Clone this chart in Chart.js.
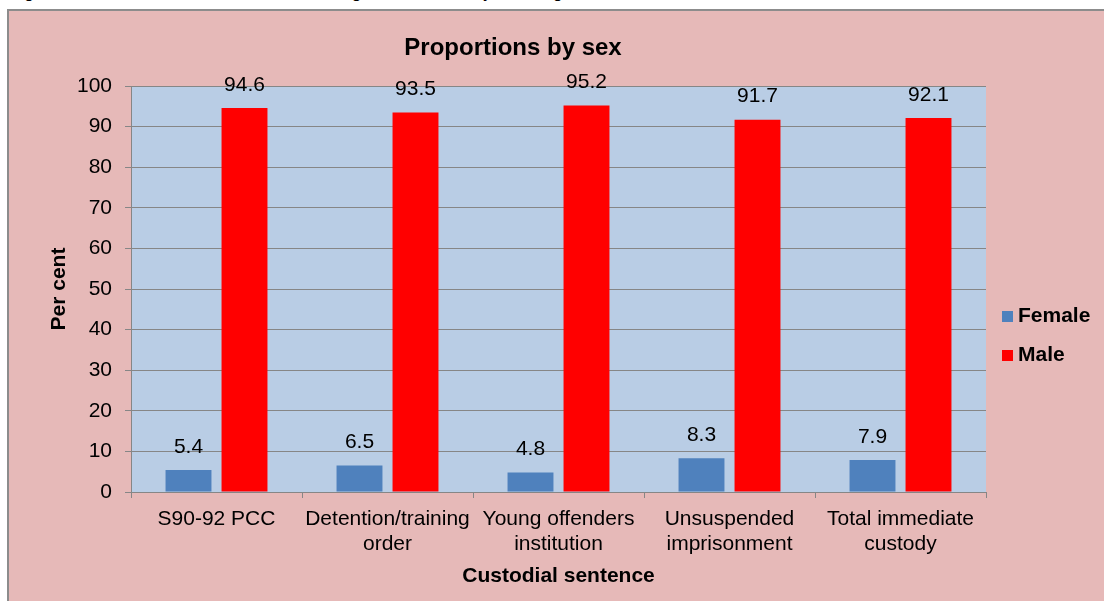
<!DOCTYPE html>
<html>
<head>
<meta charset="utf-8">
<script src="https://cdn.jsdelivr.net/npm/chart.js@4"></script>
<style>
html,body{margin:0;padding:0;background:#fff;}
#wrap{position:relative;width:1104px;height:601px;overflow:hidden;}
#cap{position:absolute;left:10px;top:-17px;font:17px "Liberation Sans",Arial,sans-serif;color:#000;white-space:nowrap;}
canvas{position:absolute;left:0;top:0;}
</style>
</head>
<body>
<div id="wrap">
<div id="cap">Figure 5.11 Immediate custodial sentences, age 10 and over, by sex, England and Wales, 2011</div>
<canvas id="c" width="1104" height="601"></canvas>
</div>
<script>
const categories = [
  ["S90-92 PCC"],
  ["Detention/training", "order"],
  ["Young offenders", "institution"],
  ["Unsuspended", "imprisonment"],
  ["Total immediate", "custody"]
];
const female = [5.4, 6.5, 4.8, 8.3, 7.9];
const male = [94.6, 93.5, 95.2, 91.7, 92.1];
const yTicks = [0, 10, 20, 30, 40, 50, 60, 70, 80, 90, 100];
const chartTitle = "Proportions by sex";
const yTitle = "Per cent";
const xTitle = "Custodial sentence";

const FONT = '"Liberation Sans", Arial, sans-serif';

const bgPlugin = {
  id: 'bg',
  beforeDraw(chart) {
    const ctx = chart.ctx;
    ctx.save();
    ctx.fillStyle = '#E6B9B8';
    ctx.fillRect(8, 10, 1104 - 8, 601 - 10);
    ctx.strokeStyle = '#8C8C8C';
    ctx.lineWidth = 2;
    ctx.beginPath();
    ctx.moveTo(8, 601);
    ctx.lineTo(8, 10);
    ctx.lineTo(1104, 10);
    ctx.stroke();
    const a = chart.chartArea;
    ctx.fillStyle = '#B9CDE5';
    ctx.fillRect(a.left, a.top, a.right - a.left, a.bottom - a.top);
    ctx.restore();
  },
  afterDraw(chart) {
    const ctx = chart.ctx;
    ctx.save();
    ctx.fillStyle = '#000';
    ctx.font = 'bold 24px ' + FONT;
    ctx.textAlign = 'center';
    ctx.textBaseline = 'middle';
    ctx.fillText(chartTitle, 513, 48);
    ctx.font = '21px ' + FONT;
    chart.data.datasets.forEach((ds, i) => {
      const meta = chart.getDatasetMeta(i);
      meta.data.forEach((bar, j) => {
        ctx.fillText(String(ds.data[j]), bar.x, bar.y - 23);
      });
    });
    ctx.font = 'bold 21px ' + FONT;
    ctx.textAlign = 'left';
    const ly = [316, 355];
    chart.data.datasets.forEach((ds, i) => {
      ctx.fillStyle = ds.backgroundColor;
      ctx.fillRect(1002, ly[i] - 5, 11, 11);
      ctx.fillStyle = '#000';
      ctx.fillText(ds.label, 1018, ly[i]);
    });
    ctx.restore();
  }
};

new Chart(document.getElementById('c'), {
  type: 'bar',
  data: {
    labels: categories,
    datasets: [
      { label: 'Female', data: female, backgroundColor: '#4F81BD', categoryPercentage: 0.655, barPercentage: 0.82 },
      { label: 'Male', data: male, backgroundColor: '#FF0000', categoryPercentage: 0.655, barPercentage: 0.82 }
    ]
  },
  options: {
    responsive: false,
    animation: false,
    devicePixelRatio: 1,
    layout: { padding: { left: 10, top: 86, right: 118, bottom: 0 } },
    plugins: { legend: { display: false }, title: { display: false }, tooltip: { enabled: false } },
    scales: {
      x: {
        afterFit(s) { s.height = 109; },
        grid: { display: true, drawOnChartArea: false, drawTicks: true, tickLength: 6, color: '#868686', offset: true },
        border: { display: true, color: '#868686', width: 1 },
        ticks: { color: '#000', font: { family: FONT, size: 21, lineHeight: 1.19 }, padding: 9, maxRotation: 0, autoSkip: false },
        title: { display: true, text: xTitle, color: '#000', font: { family: FONT, size: 21, weight: 'bold' }, padding: { top: 0, bottom: 12 } }
      },
      y: {
        min: 0, max: 100,
        afterFit(s) { s.width = 121; },
        afterBuildTicks(s) { s.ticks = yTicks.map(v => ({ value: v })); },
        grid: { color: '#868686', tickLength: 6, drawTicks: true },
        border: { display: true, color: '#868686', width: 1 },
        ticks: { color: '#000', font: { family: FONT, size: 21 }, padding: 13 },
        title: { display: true, text: yTitle, color: '#000', font: { family: FONT, size: 21, weight: 'bold' }, padding: { top: 37, bottom: 0 } }
      }
    }
  },
  plugins: [bgPlugin]
});
</script>
</body>
</html>
